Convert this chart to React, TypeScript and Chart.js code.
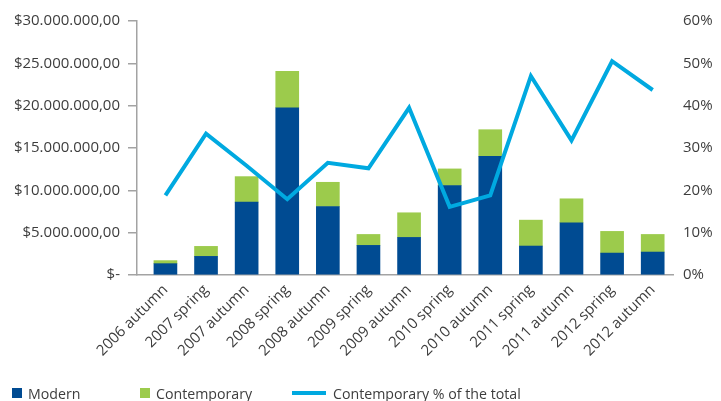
import React, { useEffect, useRef } from "react";
import { Chart, registerables } from "chart.js";

Chart.register(...registerables);

const categories = [
  "2006 autumn",
  "2007 spring",
  "2007 autumn",
  "2008 spring",
  "2008 autumn",
  "2009 spring",
  "2009 autumn",
  "2010 spring",
  "2010 autumn",
  "2011 spring",
  "2011 autumn",
  "2012 spring",
  "2012 autumn",
];

const seriesNames = ["Modern", "Contemporary", "Contemporary % of the total"];

// USD
const modern = [
  1340000, 2200000, 8600000, 19750000, 8090000, 3500000, 4440000, 10570000,
  14020000, 3420000, 6170000, 2590000, 2710000,
];
const contemporary = [
  360000, 1180000, 3020000, 4320000, 2860000, 1290000, 2910000, 1960000,
  3140000, 3060000, 2830000, 2560000, 2080000,
];
// percent
const contemporaryPct = [
  18.8, 33.4, 25.8, 17.9, 26.5, 25.2, 39.5, 16.1, 18.8, 47.0, 31.8, 50.5, 43.7,
];

const leftTickValues = [0, 5000000, 10000000, 15000000, 20000000, 25000000, 30000000];
const rightTickValues = [0, 10, 20, 30, 40, 50, 60];

const modernColor = "#004b92";
const contemporaryColor = "#9ccb4c";
const lineColor = "#00a9e0";
const axisColor = "#a3a3a3";
const textColor = "#3d3d3d";
const fontFamily = "'Open Sans', sans-serif";

function formatDollars(v: number): string {
  if (v === 0) return "$-";
  const s = String(Math.round(v)).replace(/\B(?=(\d{3})+(?!\d))/g, ".");
  return "$" + s + ",00";
}

export default function App() {
  const ref = useRef<HTMLCanvasElement>(null);

  useEffect(() => {
    const canvas = ref.current;
    if (!canvas) return;
    const font = { family: fontFamily, size: 15 };
    const chart = new Chart(canvas, {
      type: "bar",
      data: {
        datasets: [
          {
            type: "line",
            label: seriesNames[2],
            data: contemporaryPct.map((v, i) => ({ x: i, y: v })),
            yAxisID: "y1",
            borderColor: lineColor,
            backgroundColor: lineColor,
            borderWidth: 4,
            pointRadius: 0,
            tension: 0,
            borderJoinStyle: "miter",
            order: 0,
          } as any,
          {
            type: "bar",
            label: seriesNames[0],
            data: modern.map((v, i) => ({ x: i, y: v })),
            yAxisID: "y",
            backgroundColor: modernColor,
            barThickness: 23,
            grouped: false,
            stack: "s",
            order: 1,
          } as any,
          {
            type: "bar",
            label: seriesNames[1],
            data: contemporary.map((v, i) => ({ x: i, y: v })),
            yAxisID: "y",
            backgroundColor: contemporaryColor,
            barThickness: 23,
            grouped: false,
            stack: "s",
            order: 1,
          } as any,
        ],
      },
      options: {
        responsive: false,
        animation: false,
        devicePixelRatio: 1,
        layout: { padding: { top: 21, left: 0, right: 0, bottom: 0 } },
        plugins: {
          legend: { display: false },
          tooltip: { enabled: false },
        },
        scales: {
          x: {
            type: "linear",
            offset: false,
            min: -0.7,
            max: 12.5,
            afterBuildTicks: (s: any) => {
              s.ticks = categories.map((_, i) => ({ value: i }));
            },
            afterFit: (s: any) => {
              s.height = 126;
            },
            ticks: {
              autoSkip: false,
              maxRotation: 45,
              minRotation: 45,
              padding: 6,
              font,
              color: textColor,
              callback: (v: any) => categories[v as number] ?? "",
            },
            grid: {
              display: true,
              offset: false,
              drawOnChartArea: false,
              drawTicks: false,
            },
            border: { display: true, color: axisColor, width: 1.5 },
          },
          y: {
            type: "linear",
            position: "left",
            stacked: true,
            min: 0,
            max: 30000000,
            afterBuildTicks: (s: any) => {
              s.ticks = leftTickValues.map((v) => ({ value: v }));
            },
            afterFit: (s: any) => {
              s.width = 137;
            },
            ticks: {
              padding: 8,
              font,
              color: textColor,
              callback: (v: any) => formatDollars(v as number),
            },
            grid: {
              display: true,
              drawOnChartArea: false,
              drawTicks: true,
              tickLength: 9,
              color: axisColor,
              lineWidth: 1.5,
            },
            border: { display: true, color: axisColor, width: 1.5 },
          },
          y1: {
            type: "linear",
            position: "right",
            min: 0,
            max: 60,
            afterBuildTicks: (s: any) => {
              s.ticks = rightTickValues.map((v) => ({ value: v }));
            },
            afterFit: (s: any) => {
              s.width = 48;
            },
            ticks: {
              padding: 10,
              font,
              color: textColor,
              callback: (v: any) => v + "%",
            },
            grid: { display: false, drawOnChartArea: false, drawTicks: false },
            border: { display: false },
          },
        },
      },
    });
    return () => chart.destroy();
  }, []);

  const legendItems = [
    { name: seriesNames[0], color: modernColor, kind: "box", left: 12 },
    { name: seriesNames[1], color: contemporaryColor, kind: "box", left: 140 },
    { name: seriesNames[2], color: lineColor, kind: "line", left: 292 },
  ];

  return (
    <div
      style={{
        position: "fixed",
        left: 0,
        top: 0,
        width: 721,
        height: 401,
        background: "#ffffff",
        overflow: "hidden",
      }}
    >
      <canvas
        ref={ref}
        width={721}
        height={401}
        style={{ display: "block", width: 721, height: 401 }}
      />
      {legendItems.map((it) => (
        <div
          key={it.name}
          style={{
            position: "absolute",
            left: it.left,
            top: 383,
            height: 20,
            display: "flex",
            alignItems: "center",
            fontFamily,
            fontSize: 14.2,
            color: textColor,
            whiteSpace: "nowrap",
          }}
        >
          <span
            style={{
              display: "inline-block",
              width: it.kind === "box" ? 10 : 34,
              height: it.kind === "box" ? 10 : 4,
              background: it.color,
              marginRight: it.kind === "box" ? 6 : 7,
            }}
          />
          <span>{it.name}</span>
        </div>
      ))}
    </div>
  );
}
